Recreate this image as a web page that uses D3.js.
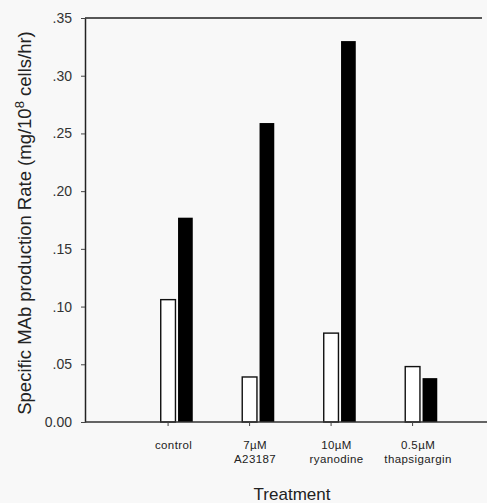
<!DOCTYPE html>
<html>
<head>
<meta charset="utf-8">
<script src="https://cdn.jsdelivr.net/npm/d3@7"></script>
<style>
  body { margin: 0; background: #f8f8f8; }
  svg { display: block; font-family: "Liberation Sans", Arial, sans-serif; }
</style>
</head>
<body>
<div id="chart"></div>
<script>
// data
var treatments = ["control", "7\u00b5M A23187", "10\u00b5M ryanodine", "0.5\u00b5M thapsigargin"];
var labelLines = [["control"], ["7\u00b5M", "A23187"], ["10\u00b5M", "ryanodine"], ["0.5\u00b5M", "thapsigargin"]];
var openBars = [0.106, 0.039, 0.077, 0.048];   // white bars
var solidBars = [0.177, 0.259, 0.330, 0.038];  // black bars
var yTicks = [0, 0.05, 0.10, 0.15, 0.20, 0.25, 0.30, 0.35];
var yTickLabels = ["0.00", ".05", ".10", ".15", ".20", ".25", ".30", ".35"];

var W = 487, H = 503;
var plotL = 85, plotR = 487, plotT = 18, plotB = 422;

var svg = d3.select("#chart").append("svg")
    .attr("width", W)
    .attr("height", H);

var y = d3.scaleLinear().domain([0, 0.35]).range([plotB, plotT]);

var x = d3.scaleBand()
    .domain(treatments)
    .range([136, 462])
    .paddingInner(0.607)
    .paddingOuter(0.3035);

var xs = d3.scaleBand()
    .domain(["open", "solid"])
    .range([0, x.bandwidth()])
    .paddingInner(0.15);

// frame: top line
svg.append("line")
    .attr("x1", plotL).attr("x2", 482)
    .attr("y1", plotT).attr("y2", plotT)
    .attr("stroke", "#222").attr("stroke-width", 1.5);

// y axis
var yAxis = d3.axisLeft(y)
    .tickValues(yTicks)
    .tickFormat(function(d, i) { return yTickLabels[i]; })
    .tickSize(4)
    .tickSizeOuter(0)
    .tickPadding(9);

var gy = svg.append("g")
    .attr("transform", "translate(" + plotL + ",0)")
    .call(yAxis);
gy.select(".domain").attr("stroke", "#222").attr("stroke-width", 1.5);
gy.selectAll(".tick line").attr("stroke", "#444");
gy.selectAll(".tick text")
    .attr("font-size", 14)
    .attr("font-family", "Liberation Sans, Arial, sans-serif")
    .attr("fill", "#333");

// bars
var groups = svg.append("g").selectAll("g")
    .data(treatments)
    .join("g")
    .attr("transform", function(d) { return "translate(" + x(d) + ",0)"; });

groups.append("rect")
    .attr("x", xs("open"))
    .attr("width", xs.bandwidth())
    .attr("y", function(d, i) { return y(openBars[i]); })
    .attr("height", function(d, i) { return y(0) - y(openBars[i]); })
    .attr("fill", "#fff")
    .attr("stroke", "#111")
    .attr("stroke-width", 1.4);

groups.append("rect")
    .attr("x", xs("solid"))
    .attr("width", xs.bandwidth())
    .attr("y", function(d, i) { return y(solidBars[i]); })
    .attr("height", function(d, i) { return y(0) - y(solidBars[i]); })
    .attr("fill", "#000");

// x axis baseline and ticks under the open bars
var gx = svg.append("g").attr("transform", "translate(0," + plotB + ")");
gx.append("line")
    .attr("x1", plotL).attr("x2", plotR)
    .attr("stroke", "#333").attr("stroke-width", 1.5);
gx.selectAll(".xtick")
    .data(treatments)
    .join("line")
    .attr("class", "xtick")
    .attr("x1", function(d) { return x(d) + xs("open") + xs.bandwidth() / 2; })
    .attr("x2", function(d) { return x(d) + xs("open") + xs.bandwidth() / 2; })
    .attr("y1", 0).attr("y2", 4)
    .attr("stroke", "#444");

// category labels
var lab = svg.append("g").selectAll("text")
    .data(treatments)
    .join("text")
    .attr("text-anchor", "middle")
    .attr("font-size", 11.5)
    .attr("letter-spacing", 0.4)
    .attr("fill", "#222")
    .attr("transform", function(d) { return "translate(" + (x(d) + x.bandwidth() * 0.4) + ",449)"; });
lab.selectAll("tspan")
    .data(function(d, i) { return labelLines[i]; })
    .join("tspan")
    .attr("x", 0)
    .attr("dy", function(d, j) { return j === 0 ? 0 : 13.5; })
    .text(function(d) { return d; });

// axis titles
svg.append("text")
    .attr("x", 292).attr("y", 500)
    .attr("text-anchor", "middle")
    .attr("font-size", 17)
    .attr("fill", "#222")
    .text("Treatment");

var yt = svg.append("text")
    .attr("transform", "translate(31,223) rotate(-90)")
    .attr("text-anchor", "middle")
    .attr("font-size", 18.5)
    .attr("fill", "#222");
yt.append("tspan").text("Specific MAb production Rate (mg/10");
yt.append("tspan").attr("baseline-shift", "super").attr("font-size", 13).text("8");
yt.append("tspan").text(" cells/hr)");
</script>
</body>
</html>
